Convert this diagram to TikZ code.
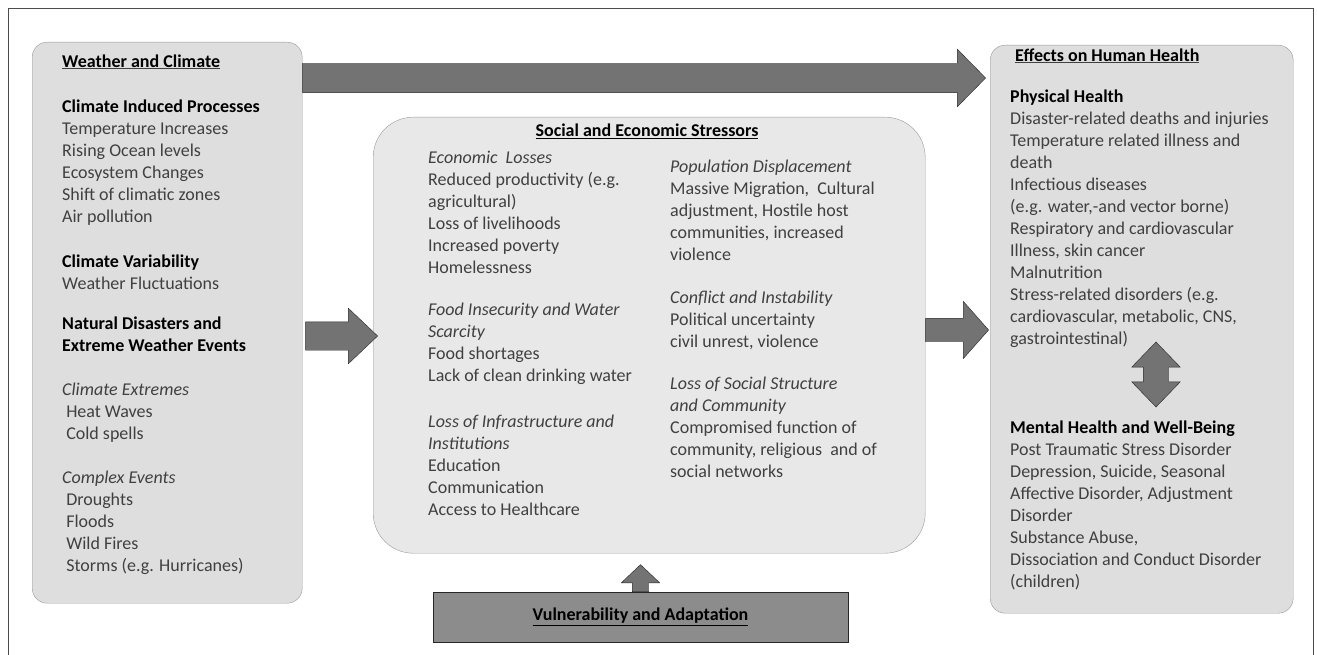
\documentclass[tikz,border=0pt]{standalone}
\usepackage{fontspec}
\setmainfont{Carlito}
\usetikzlibrary{shapes.arrows,positioning}

% bold (and underlined) headings inside grey body text
\newcommand{\hd}[1]{{\color{black}\bfseries #1}}
\newcommand{\hdu}[1]{\underline{\hd{#1}}}

\begin{document}
\begin{tikzpicture}[
  x=1pt, y=-1pt,
  font=\fontsize{18}{22}\selectfont,
  panel/.style={draw=black!40,fill=black!13,rounded corners=15pt,anchor=north west,inner sep=0pt},
  % text blocks are placed by the baseline of their last line
  txt/.style={align=left,anchor=base west,inner sep=0pt,text=black!75},
  fat/.style={single arrow,draw=black!85,fill=black!55,inner xsep=0pt,anchor=tail},
  upfat/.style={single arrow,draw=black!85,fill=black!55,inner ysep=0pt,anchor=tail,shape border rotate=90},
  twoway/.style={double arrow,draw=black!85,fill=black!55,inner ysep=0pt,shape border rotate=90}
]
\useasboundingbox (0,0) rectangle (1317,655);
\draw[black!70] (8,655) |- (1313,8) -- (1313,655);

% the three panels and the bar below
\node[panel,minimum width=270pt,minimum height=561pt] (wx) at (32,42) {};
\node[panel,fill=black!9,rounded corners=40pt,minimum width=552pt,minimum height=436pt] (stress) at (373,117) {};
\node[panel,minimum width=303pt,minimum height=568pt] (health) at (990,45) {};
\node[draw=black!85,fill=black!45,minimum width=415pt,minimum height=50pt] (vuln) at (640.5,617) {\hdu{Vulnerability and Adaptation}};

% block arrows between them
\node[fat,inner ysep=14.5pt,single arrow head extend=14pt,single arrow tip angle=91,minimum height=683pt] (top) at (wx.east |- 0,78) {};
\node[fat,inner ysep=14pt,single arrow head extend=13.5pt,single arrow tip angle=87,minimum height=72pt,xshift=3pt] (left) at (wx.east |- 0,336) {};
\node[fat,inner ysep=11.5pt,single arrow head extend=17pt,single arrow tip angle=97,minimum height=63pt] (right) at (stress.east |- 0,330) {};
\node[upfat,inner xsep=8pt,single arrow head extend=11pt,single arrow tip angle=93,minimum height=27pt] (up) at (vuln.north) {};
\node[twoway,inner xsep=12.5pt,double arrow head extend=11.5pt,double arrow tip angle=88,minimum height=65pt] (both) at (1156,374.5) {};

% weather and climate
\node[txt] (wxtext) at (62,571) {%
  \hdu{Weather and Climate}\\[23pt]
  \hd{Climate Induced Processes}\\
  Temperature Increases\\
  Rising Ocean levels\\
  Ecosystem Changes\\
  Shift of climatic zones\\
  Air pollution\\[23pt]
  \hd{Climate Variability}\\
  Weather Fluctuations\\[18pt]
  \hd{Natural Disasters and}\\
  \hd{Extreme Weather Events}\\[22pt]
  \textit{Climate Extremes}\\
  \ Heat Waves\\
  \ Cold spells\\[22pt]
  \textit{Complex Events}\\
  \ Droughts\\
  \ Floods\\
  \ Wild Fires\\
  \ Storms (e.g. Hurricanes)};

% social and economic stressors
\node[inner sep=0pt,anchor=base] (sttitle) at (647,137) {\hdu{Social and Economic Stressors}};
\node[txt] (stleft) at (428,515) {%
  \textit{Economic\ \ Losses}\\
  Reduced productivity (e.g.\\
  agricultural)\\
  Loss of livelihoods\\
  Increased poverty\\
  Homelessness\\[20pt]
  \textit{Food Insecurity and Water}\\
  \textit{Scarcity}\\
  Food shortages\\
  Lack of clean drinking water\\[24pt]
  \textit{Loss of Infrastructure and}\\
  \textit{Institutions}\\
  Education\\
  Communication\\
  Access to Healthcare};
\node[txt] (stright) at (670,477) {%
  \textit{Population Displacement}\\
  Massive Migration,\ \ Cultural\\
  adjustment, Hostile host\\
  communities, increased\\
  violence\\[21pt]
  \textit{Conflict and Instability}\\
  Political uncertainty\\
  civil unrest, violence\\[20pt]
  \textit{Loss of Social Structure}\\
  \textit{and Community}\\
  Compromised function of\\
  community, religious\ \ and of\\
  social networks};

% effects on human health
\node[txt] (phys) at (1010,344) {%
  \hspace{5pt}\hdu{Effects on Human Health}\\[19pt]
  \hd{Physical Health}\\
  Disaster-related deaths and injuries\\
  Temperature related illness and\\
  death\\
  Infectious diseases\\
  (e.g. water,-and vector borne)\\
  Respiratory and cardiovascular\\
  Illness, skin cancer\\
  Malnutrition\\
  Stress-related disorders (e.g.\\
  cardiovascular, metabolic, CNS,\\
  gastrointestinal)};
\node[txt] (ment) at (1010,587) {%
  \hd{Mental Health and Well-Being}\\
  Post Traumatic Stress Disorder\\
  Depression, Suicide, Seasonal\\
  Affective Disorder, Adjustment\\
  Disorder\\
  Substance Abuse,\\
  Dissociation and Conduct Disorder\\
  (children)};
\end{tikzpicture}
\end{document}
